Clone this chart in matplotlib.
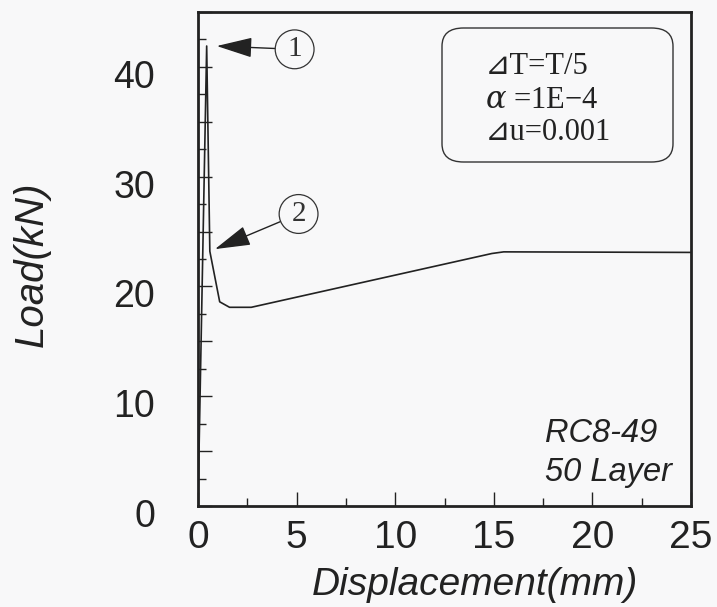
import matplotlib
matplotlib.use("Agg")
import matplotlib.pyplot as plt
from matplotlib.patches import FancyBboxPatch
from matplotlib.ticker import MultipleLocator, FuncFormatter
from matplotlib.transforms import ScaledTranslation

# Data
displacement = [0.0, 0.44, 0.6, 1.1, 1.6, 2.7, 14.9, 15.5, 25.0]
load = [0.0, 41.9, 23.2, 18.6, 18.1, 18.1, 23.0, 23.15, 23.1]

x_ticks = [0, 5, 10, 15, 20, 25]
y_ticks = [0, 10, 20, 30, 40]
params = ["⊿T=T/5", r"$\alpha$ =1E−4", "⊿u=0.001"]
specimen = ["RC8-49", "50 Layer"]
markers = [("1", (0.95, 41.9), (4.9, 41.6)), ("2", (0.86, 23.4), (5.1, 26.6))]

plt.rcParams["mathtext.fontset"] = "dejavuserif"

W, H = 717, 607
bg = "#f8f8f9"
fig = plt.figure(figsize=(7.17, 6.07), dpi=100, facecolor=bg)
ax = fig.add_axes([198/W, 1-506/H, (691-198)/W, (506-12)/H])
ax.set_facecolor(bg)

ax.plot(displacement, load, color="#222222", lw=1.2)

ax.set_xlim(0, 25)
ax.set_ylim(0, 45)
ax.xaxis.set_major_locator(MultipleLocator(5))
ax.xaxis.set_minor_locator(MultipleLocator(2.5))
ax.yaxis.set_major_locator(MultipleLocator(5))
ax.yaxis.set_minor_locator(MultipleLocator(2.5))
ax.yaxis.set_major_formatter(FuncFormatter(lambda v, p: f"{v:.0f}" if int(round(v)) in y_ticks else ""))
ax.xaxis.set_major_formatter(FuncFormatter(lambda v, p: f"{v:.0f}" if int(round(v)) in x_ticks else ""))

sans = ["Liberation Sans", "DejaVu Sans"]
ax.tick_params(which="both", direction="in", top=False, right=False, color="#222222", width=1.0)
ax.tick_params(which="major", length=10)
ax.tick_params(which="minor", length=5.5)
ax.tick_params(axis="x", which="major", pad=10, labelsize=28, labelcolor="#222222")
ax.tick_params(axis="y", which="major", pad=31, labelsize=27, labelcolor="#222222")
for lab in ax.get_xticklabels() + ax.get_yticklabels():
    lab.set_family(sans)
off = ScaledTranslation(0, -7/100, fig.dpi_scale_trans)
for lab in ax.get_yticklabels():
    lab.set_transform(lab.get_transform() + off)

for s in ax.spines.values():
    s.set_linewidth(2.0)
    s.set_color("#222222")

fig.text(475/W, 1-595/H, "Displacement(mm)", fontsize=28, style="italic",
         family=sans, ha="center", va="baseline", color="#222222")
fig.text(32/W, 1-264/H, "Load(kN)", fontsize=29, style="italic", rotation=90,
         family=sans, ha="center", va="center", color="#222222")

# parameter box
bx0, bx1, by0, by1 = 442, 673, 28, 162
box = FancyBboxPatch((bx0/W, 1-by1/H), (bx1-bx0)/W, (by1-by0)/H,
                     boxstyle="round,pad=0,rounding_size=0.03",
                     transform=fig.transFigure, fc="none", ec="#333333", lw=1.0)
fig.patches.append(box)
serif = ["Liberation Serif", "DejaVu Serif", "DejaVu Sans"]
for i, t in enumerate(params):
    fig.text(485/W, 1-(67+33*i)/H, t, fontsize=22, family=serif, ha="left", va="center",
             color="#222222")

for i, t in enumerate(specimen):
    fig.text(545/W, 1-(434+38*i)/H, t, fontsize=23.5, style="italic", family=sans,
             ha="left", va="center", color="#222222")

for num, tip, src in markers:
    ax.annotate(num, xy=tip, xytext=src, fontsize=21, family=serif, ha="center", va="center",
                color="#333333",
                bbox=dict(boxstyle="circle,pad=0.22", fc="none", ec="#333333", lw=0.9),
                arrowprops=dict(arrowstyle="-|>,head_length=1.6,head_width=0.45", color="#222222",
                                lw=1.0, shrinkA=0, shrinkB=0, mutation_scale=14))

fig.savefig("out.png", dpi=100, facecolor=bg)
